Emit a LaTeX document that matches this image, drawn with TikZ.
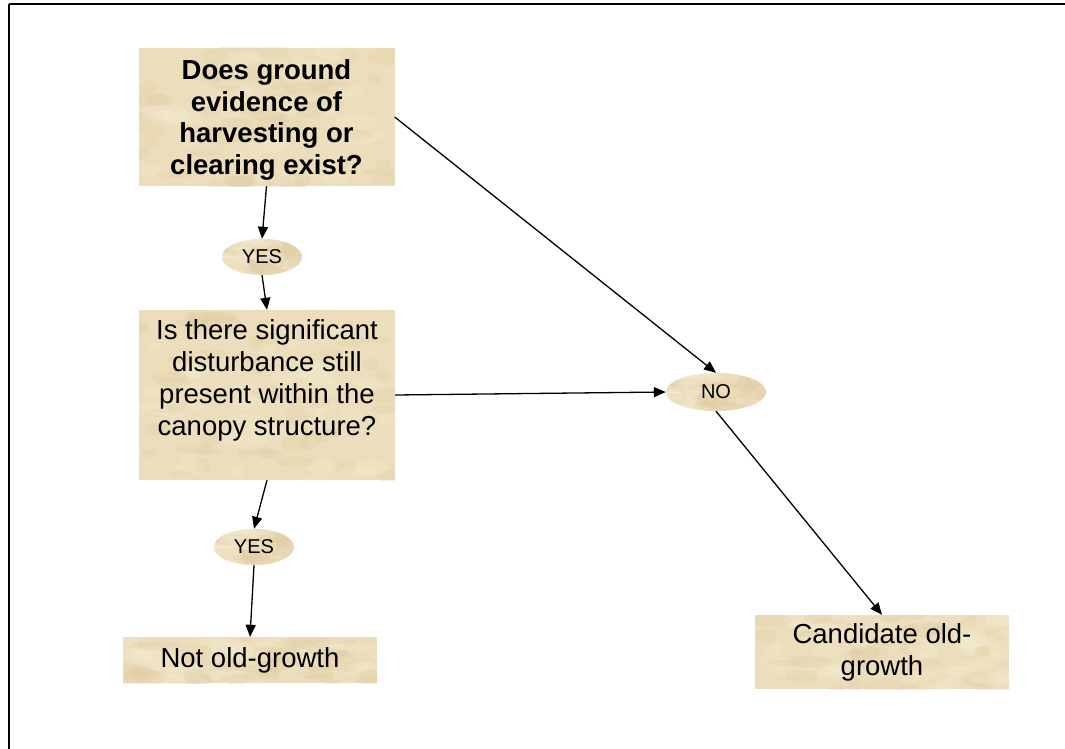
\documentclass[tikz,border=0pt]{standalone}
\usepackage{fontspec}
\setmainfont{Liberation Sans}
\usetikzlibrary{arrows.meta,shapes.geometric,calc}
\definecolor{parch}{RGB}{236,222,188}
\definecolor{parchlight}{RGB}{245,235,210}
\definecolor{parchdark}{RGB}{224,205,164}
% mottled parchment fill: scattered soft blotches on a flat base
\newcommand\mottle[1]{%
  \pgfmathsetseed{#1}%
  \foreach \i in {1,...,90}{%
    \pgfmathsetmacro\u{rnd}\pgfmathsetmacro\v{rnd}%
    \pgfmathsetmacro\rx{6+16*rnd}\pgfmathsetmacro\ry{3+6*rnd}%
    \pgfmathsetmacro\pick{rnd}%
    \ifdim\pick pt<0.5pt \def\blot{parchlight}\else\def\blot{parchdark}\fi
    \fill[\blot, opacity=0.3]
      let \p1=(path picture bounding box.south west),
          \p2=(path picture bounding box.north east) in
      ({\x1+\u*(\x2-\x1)},{\y1+\v*(\y2-\y1)}) ellipse [x radius=\rx pt, y radius=\ry pt];
  }}
\tikzset{
  card/.style={draw=none, fill=parch, path picture={\mottle{#1}},
    inner sep=0pt, align=center, font=\fontsize{27.5}{32}\selectfont},
  card/.default=3,
  answer/.style={ellipse, draw=none, fill=parch, path picture={\mottle{11}},
    inner sep=0pt, font=\fontsize{20}{22}\selectfont},
  link/.style={draw=black, line width=1.3pt, -{Triangle[length=12pt,width=10pt]}},
}
\begin{document}
\begin{tikzpicture}[x=1pt,y=-1pt]
\useasboundingbox (0,0) rectangle (1065,749);
% frame: rule along the top and down the left side
\draw[line width=1.5pt] (9,4) -- (1065,4);
\draw[line width=1.2pt] (9,4) -- (9,749);

\node[card=3, minimum width=256pt, minimum height=138pt, font=\fontsize{27.5}{31.5}\selectfont\bfseries]
  (ground) at (266.5,117) {\\[-6pt]Does ground\\evidence of\\harvesting or\\clearing exist?};
\node[answer, minimum width=80pt, minimum height=36pt] (yesA) at (262,257) {YES};
\node[card=5, minimum width=256pt, minimum height=170pt, text depth=34pt]
  (canopy) at (267,395) {Is there significant\\disturbance still\\present within the\\canopy structure?};
\node[answer, minimum width=100pt, minimum height=38pt] (no) at (716,392) {NO};
\node[answer, minimum width=80pt, minimum height=36pt] (yesB) at (254,547) {YES};
\node[card=8, minimum width=254pt, minimum height=46pt] (notold) at (250,660) {Not old-growth};
\node[card=9, minimum width=254pt, minimum height=74pt] (cand) at (882,652) {Candidate old-\\growth};

\draw[link] (ground.south) -- (yesA.north);
\draw[link] (yesA.south) -- (canopy.north);
\draw[link] (ground.east) -- (no.north);
\draw[link] (canopy.east) -- (no.west);
\draw[link] (canopy.south) -- (yesB.north);
\draw[link] (yesB.south) -- (notold.north);
\draw[link] (no.south) -- (cand.north);
\end{tikzpicture}
\end{document}
